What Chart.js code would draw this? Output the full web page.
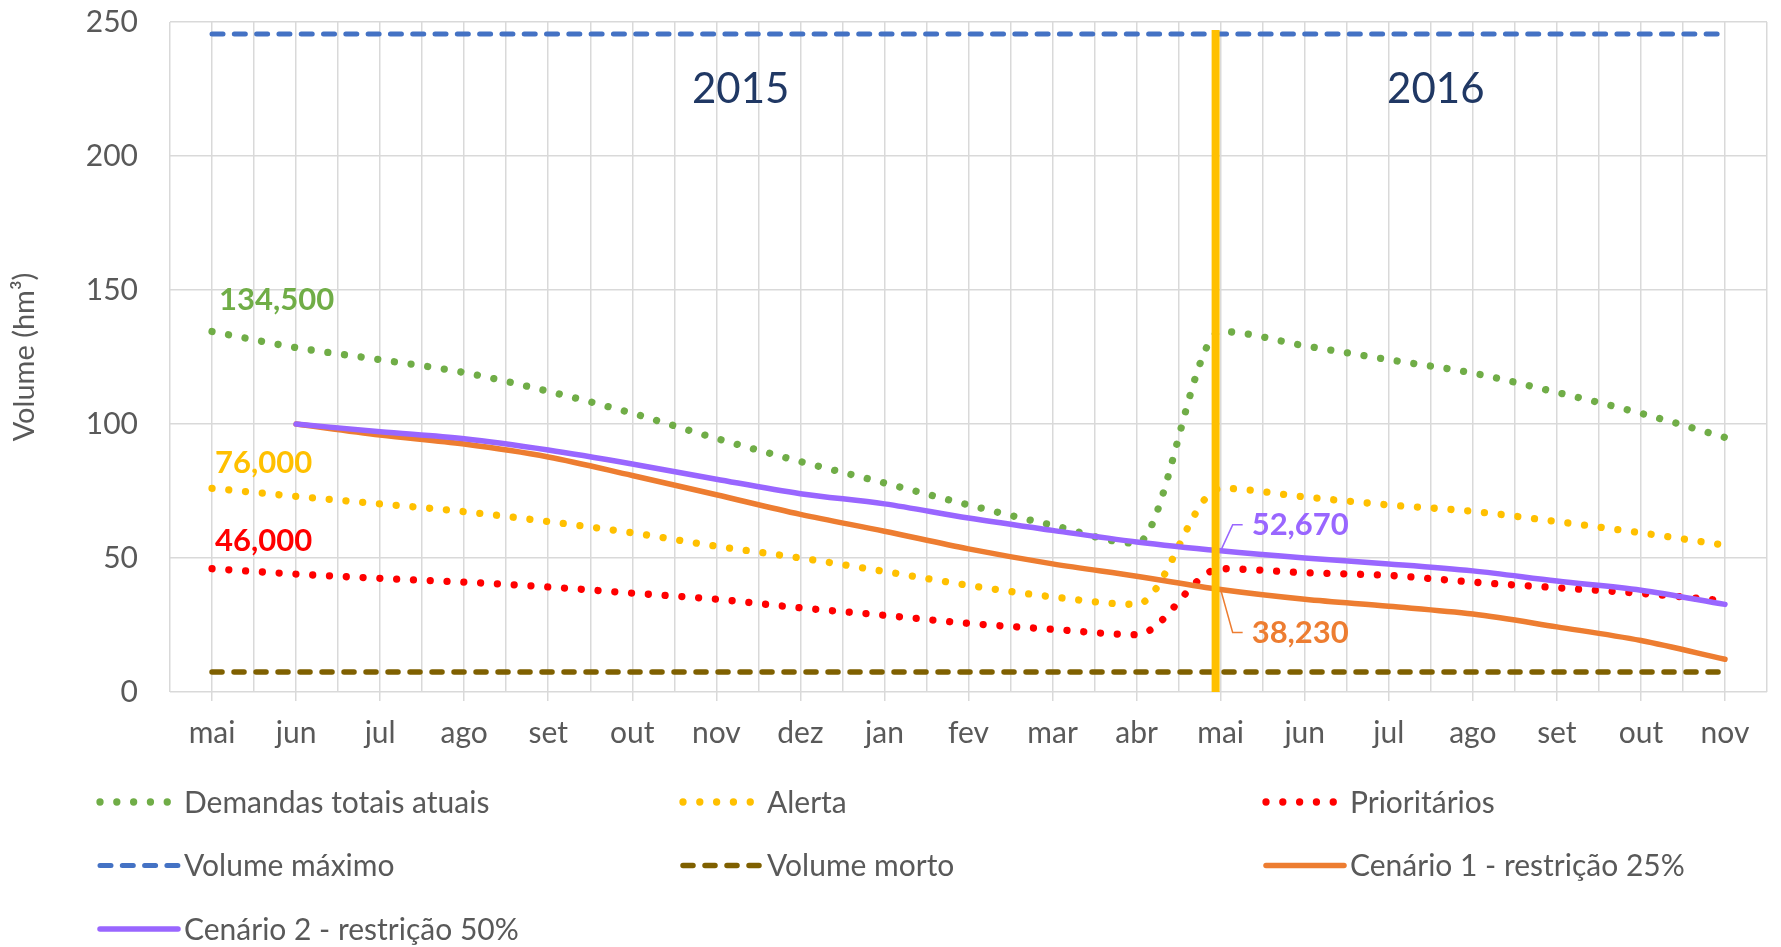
<!DOCTYPE html>
<html lang="pt">
<head>
<meta charset="utf-8">
<title>Volume (hm³)</title>
<script src="https://cdn.jsdelivr.net/npm/chart.js@4.4.1/dist/chart.umd.min.js"></script>
<style>
  html, body { margin: 0; padding: 0; background: #fff; }
  canvas { display: block; }
</style>
</head>
<body>
<canvas id="volumeChart" width="1781" height="947"></canvas>
<script>
// monthly values, mai/2015 .. nov/2016
const months = ['mai', 'jun', 'jul', 'ago', 'set', 'out', 'nov', 'dez', 'jan', 'fev', 'mar', 'abr',
                'mai', 'jun', 'jul', 'ago', 'set', 'out', 'nov'];
const demandasTotais = [134.5, 128.5, 124, 119.2, 112.2, 104, 94.6, 86, 78, 69.8, 62.2, 55.5,
                        134.5, 129.2, 124, 119, 111.8, 104, 95];
const alerta = [76, 73, 70.2, 67.3, 63.6, 59.4, 54.4, 50, 45, 39.8, 35.5, 32.7,
                76, 72.8, 69.8, 67.4, 63.6, 59.4, 54.8];
const prioritarios = [46, 44, 42.4, 41, 39.2, 36.9, 34.6, 31.4, 28.6, 25.6, 23.4, 21.4,
                      46, 44.5, 43.5, 41, 38.9, 36.8, 34];
const volumeMaximo = [245.5, 245.5, 245.5, 245.5, 245.5, 245.5, 245.5, 245.5, 245.5, 245.5,
                      245.5, 245.5, 245.5, 245.5, 245.5, 245.5, 245.5, 245.5, 245.5];
const volumeMorto = [7.5, 7.5, 7.5, 7.5, 7.5, 7.5, 7.5, 7.5, 7.5, 7.5,
                     7.5, 7.5, 7.5, 7.5, 7.5, 7.5, 7.5, 7.5, 7.5];
const cenario1 = [null, 100, 95.9, 92.5, 87.7, 80.8, 73.6, 66.3, 60, 53.4, 47.8, 43.2,
                  38.23, 34.6, 32, 29.1, 24.3, 19.2, 12.2];
const cenario2 = [null, 100, 97.1, 94.5, 90.3, 85.1, 79.4, 74, 70.2, 64.9, 60.3, 56,
                  52.67, 50, 47.8, 45.2, 41.4, 38, 32.7];

// year divider (position on the month axis) and its height
const divisorX = [11.94, 11.94];
const divisorY = [0, 247];

const yTicks = [0, 50, 100, 150, 200, 250];
const yearLabels = [
  { text: '2015', x: 6.29, y: 225 },
  { text: '2016', x: 14.56, y: 225 }
];

const gridColor = '#D9D9D9';
const textColor = '#595959';
const fontFamily = 'Lato, "Open Sans", sans-serif';

function toPoints(values) {
  return values.map((v, i) => ({ x: i, y: v }));
}

function fmt(v) {
  return v.toFixed(3).replace('.', ',');
}

const dotted = { borderWidth: 7.3, borderDash: [0.01, 16.8], borderCapStyle: 'round' };

const datasets = [
  { label: 'Demandas totais atuais', data: toPoints(demandasTotais), borderColor: '#70AD47', ...dotted, order: 7 },
  { label: 'Alerta', data: toPoints(alerta), borderColor: '#FFC000', ...dotted, order: 6 },
  { label: 'Prioritários', data: toPoints(prioritarios), borderColor: '#FF0000', ...dotted, order: 5 },
  { label: 'Volume máximo', data: toPoints(volumeMaximo), borderColor: '#4472C4', borderWidth: 5,
    borderDash: [11, 11.3], borderCapStyle: 'round', order: 4 },
  { label: 'Volume morto', data: toPoints(volumeMorto), borderColor: '#7F6000', borderWidth: 5.5,
    borderDash: [10, 12], borderCapStyle: 'round', order: 3 },
  { label: 'Cenário 1 - restrição 25%', data: toPoints(cenario1), borderColor: '#ED7D31', borderWidth: 5.5,
    borderCapStyle: 'round', order: 2 },
  { label: 'Cenário 2 - restrição 50%', data: toPoints(cenario2), borderColor: '#9966FF', borderWidth: 5.5,
    borderCapStyle: 'round', order: 1 },
  { label: 'divisor', data: divisorX.map((x, i) => ({ x: x, y: divisorY[i] })), borderColor: '#FFC000',
    borderWidth: 8, cubicInterpolationMode: 'default', tension: 0, order: 0, hideInLegend: true }
];

// labels next to points (offsets in px)
const pointLabels = [
  { series: 0, index: 0, dx: 7, dy: -32 },
  { series: 1, index: 0, dx: 3, dy: -25 },
  { series: 2, index: 0, dx: 3, dy: -28 },
  { series: 6, index: 12, dx: 31, dy: -26, leader: true },
  { series: 5, index: 12, dx: 31, dy: 43, leader: true }
];

const labelsPlugin = {
  id: 'labelsPlugin',
  afterDatasetsDraw(chart) {
    const { ctx, scales: { x, y } } = chart;
    ctx.save();
    ctx.textBaseline = 'middle';

    ctx.font = '42px ' + fontFamily;
    ctx.fillStyle = '#203864';
    ctx.textAlign = 'center';
    yearLabels.forEach(l => ctx.fillText(l.text, x.getPixelForValue(l.x), y.getPixelForValue(l.y)));

    ctx.font = 'bold 31px ' + fontFamily;
    ctx.textAlign = 'left';
    pointLabels.forEach(l => {
      const ds = chart.data.datasets[l.series];
      const pt = ds.data[l.index];
      const px = x.getPixelForValue(pt.x);
      const py = y.getPixelForValue(pt.y);
      ctx.fillStyle = ds.borderColor;
      if (l.leader) {
        ctx.strokeStyle = ds.borderColor;
        ctx.lineWidth = 1.5;
        ctx.beginPath();
        ctx.moveTo(px, py);
        ctx.lineTo(px + 12, py + l.dy);
        ctx.lineTo(px + 22, py + l.dy);
        ctx.stroke();
      }
      ctx.fillText(fmt(pt.y), px + l.dx, py + l.dy);
    });
    ctx.restore();
  }
};

// three-column legend under the axis
const legendPlugin = {
  id: 'legendGrid',
  afterDraw(chart) {
    const { ctx, chartArea } = chart;
    const items = chart.data.datasets.filter(d => !d.hideInLegend);
    ctx.save();
    ctx.font = '30px ' + fontFamily;
    ctx.textBaseline = 'middle';
    ctx.textAlign = 'left';
    items.forEach((ds, i) => {
      const col = i % 3;
      const row = Math.floor(i / 3);
      const lx = 100 + col * 583;
      const ly = chartArea.bottom + 110 + row * 63.5;
      ctx.strokeStyle = ds.borderColor;
      ctx.lineWidth = ds.borderWidth;
      ctx.lineCap = ds.borderCapStyle || 'butt';
      ctx.setLineDash(ds.borderDash || []);
      ctx.beginPath();
      ctx.moveTo(lx, ly);
      ctx.lineTo(lx + 78, ly);
      ctx.stroke();
      ctx.setLineDash([]);
      ctx.fillStyle = textColor;
      ctx.fillText(ds.label, lx + 84, ly + 1);
    });
    ctx.restore();
  }
};

new Chart(document.getElementById('volumeChart').getContext('2d'), {
  type: 'line',
  data: { datasets: datasets },
  plugins: [labelsPlugin, legendPlugin],
  options: {
    responsive: false,
    animation: false,
    devicePixelRatio: 1,
    layout: { padding: { top: 22, right: 10, bottom: 180, left: 0 } },
    elements: {
      point: { radius: 0, hoverRadius: 0 },
      line: { fill: false, cubicInterpolationMode: 'monotone' }
    },
    plugins: {
      legend: { display: false },
      tooltip: { enabled: false }
    },
    scales: {
      x: {
        type: 'linear',
        min: -0.5,
        max: 18.5,
        afterFit: (scale) => { scale.height = 75; },
        border: { display: false },
        grid: {
          color: gridColor,
          lineWidth: 1.5,
          tickLength: 9,
          tickColor: (c) => Number.isInteger(c.tick.value) ? gridColor : 'rgba(0,0,0,0)'
        },
        ticks: {
          stepSize: 0.5,
          autoSkip: false,
          maxRotation: 0,
          padding: 14,
          color: textColor,
          font: { family: fontFamily, size: 30 },
          callback: (v) => Number.isInteger(v) ? months[v] : ''
        }
      },
      y: {
        min: 0,
        max: 250,
        afterFit: (scale) => {
          scale.width = 170;
          scale.paddingTop = 0;
          scale.paddingBottom = 0;
        },
        afterBuildTicks: (scale) => { scale.ticks = yTicks.map(v => ({ value: v })); },
        border: { display: false },
        grid: { color: gridColor, lineWidth: 1.5, drawTicks: false },
        ticks: {
          padding: 32,
          color: textColor,
          font: { family: fontFamily, size: 30 }
        },
        title: {
          display: true,
          text: 'Volume (hm³)',
          color: textColor,
          padding: { top: 7, bottom: 0 },
          font: { family: fontFamily, size: 29 }
        }
      }
    }
  }
});
</script>
</body>
</html>
